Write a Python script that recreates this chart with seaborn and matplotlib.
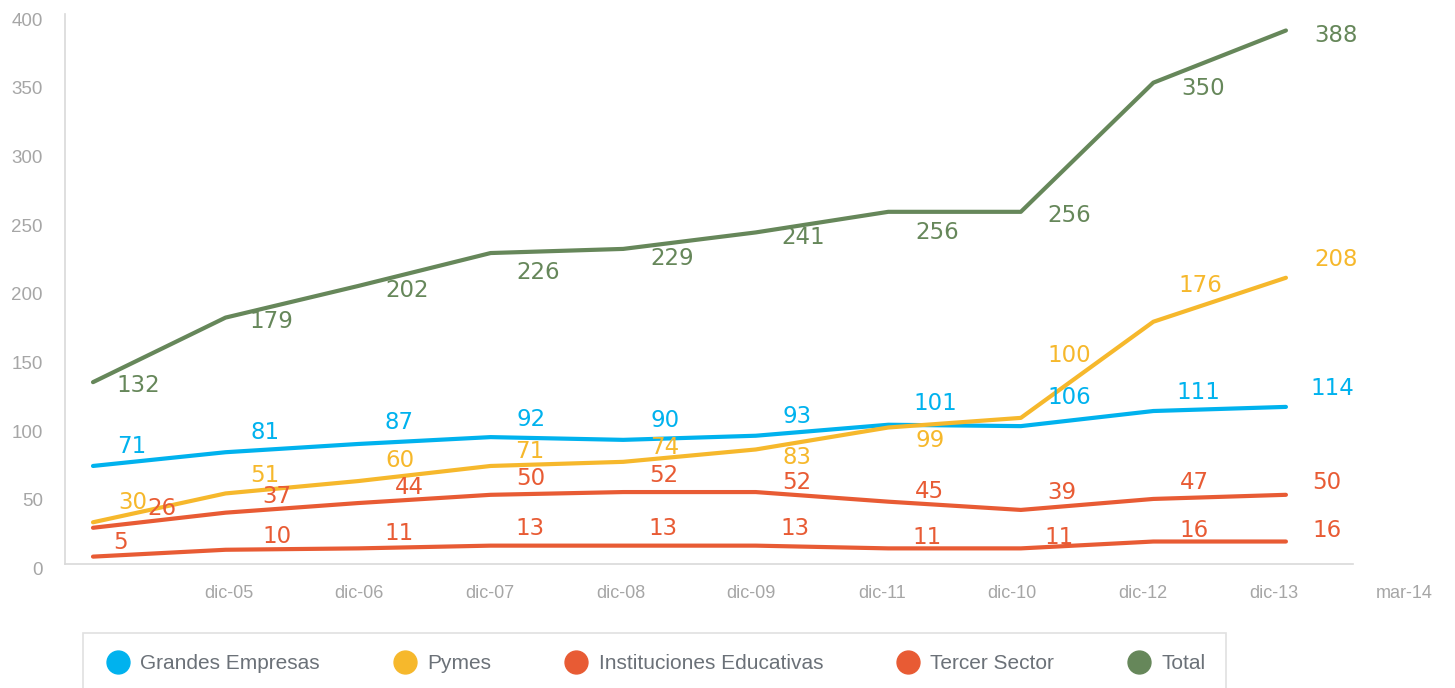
import matplotlib
matplotlib.use("Agg")
import numpy as np
import pandas as pd
import seaborn as sns
import matplotlib.pyplot as plt
from matplotlib.lines import Line2D
from matplotlib.transforms import ScaledTranslation

# ---------------- data ----------------
x_labels = ["dic-05", "dic-06", "dic-07", "dic-08", "dic-09",
            "dic-11", "dic-10", "dic-12", "dic-13", "mar-14"]
series_names = ["Grandes Empresas", "Pymes", "Instituciones Educativas",
                "Tercer Sector", "Total"]

grandes = [71, 81, 87, 92, 90, 93, 101, 100, 111, 114]
pymes = [30, 51, 60, 71, 74, 83, 99, 106, 176, 208]
instituciones = [26, 37, 44, 50, 52, 52, 45, 39, 47, 50]
tercer = [5, 10, 11, 13, 13, 13, 11, 11, 16, 16]
total = [132, 179, 202, 226, 229, 241, 256, 256, 350, 388]

# data labels as printed on the chart
grandes_lbl = [71, 81, 87, 92, 90, 93, 101, 106, 111, 114]
pymes_lbl = [30, 51, 60, 71, 74, 83, 99, 100, 176, 208]
instituciones_lbl = instituciones
tercer_lbl = tercer
total_lbl = total

y_ticks = [0, 50, 100, 150, 200, 250, 300, 350, 400]

# ---------------- style ----------------
colors = {
    "Grandes Empresas": "#00B2EE",
    "Pymes": "#F6B82C",
    "Instituciones Educativas": "#E85B34",
    "Tercer Sector": "#E85B34",
    "Total": "#66875A",
}
# label offsets (pixels, right / down) relative to each point
offsets = {
    "Total": [(45, 3), (46, 4), (49, 4), (48, 19), (49, 10), (47, 5), (49, 21), (48, 4), (50, 6), (50, 5)],
    "Grandes Empresas": [(39, -19), (40, -20), (41, -21), (40, -18), (42, -19), (41, -19), (47, -21), (48, -29), (45, -19), (46, -18)],
    "Pymes": [(40, -20), (39, -18), (42, -21), (39, -14), (41, -14), (41, 8), (42, 13), (48, -62), (47, -36), (50, -18)],
    "Instituciones Educativas": [(69, -19), (51, -16), (51, -16), (40, -16), (41, -17), (41, -10), (41, -10), (41, -17), (41, -16), (41, -12)],
    "Tercer Sector": [(28, -14), (51, -13), (41, -15), (39, -17), (40, -17), (39, -17), (39, -11), (38, -11), (41, -11), (41, -11)],
}

sns.set_theme(style="white")
plt.rcParams["font.family"] = ["DejaVu Sans"]
plt.rcParams["lines.solid_capstyle"] = "round"
narrow = ["Liberation Sans", "DejaVu Sans"]

values = {
    "Grandes Empresas": grandes,
    "Pymes": pymes,
    "Instituciones Educativas": instituciones,
    "Tercer Sector": tercer,
    "Total": total,
}
labels = {
    "Grandes Empresas": grandes_lbl,
    "Pymes": pymes_lbl,
    "Instituciones Educativas": instituciones_lbl,
    "Tercer Sector": tercer_lbl,
    "Total": total_lbl,
}

rows = []
for name in series_names:
    for i, v in enumerate(values[name]):
        rows.append({"pos": i, "value": v, "serie": name})
df = pd.DataFrame(rows)

fig = plt.figure(figsize=(14.55, 6.88), dpi=100)
ax = fig.add_axes([64.5 / 1455, 1 - 563.5 / 688, (1353 - 64.5) / 1455, (563.5 - 14) / 688])

sns.lineplot(data=df, x="pos", y="value", hue="serie", hue_order=series_names,
             palette=colors, linewidth=3, legend=False, sort=False, ax=ax)

ax.set_xlim(-0.215, 9.506)
ax.set_ylim(0, 400)
ax.set_xlabel("")
ax.set_ylabel("")

for s in ["top", "right"]:
    ax.spines[s].set_visible(False)
for s in ["left", "bottom"]:
    ax.spines[s].set_color("#D9D9D9")
    ax.spines[s].set_linewidth(1.2)

# y ticks
ax.set_yticks(y_ticks)
ax.set_yticklabels([str(t) for t in y_ticks], family=narrow, fontsize=13.5, color="#A6A6A6")
ax.tick_params(axis="y", length=0, pad=15.5)
for lab in ax.get_yticklabels():
    lab.set_transform(lab.get_transform() + ScaledTranslation(0, -0.05, fig.dpi_scale_trans))

# x labels
ax.set_xticks([])
label_pos = 0.04 + 0.985 * np.arange(1, len(x_labels) + 1)
for p, t in zip(label_pos, x_labels):
    ax.annotate(t, xy=(p, 0), xycoords=("data", "axes fraction"),
                xytext=(0, -29.5 * 0.72), textcoords="offset points",
                ha="center", va="center", family=narrow, fontsize=13,
                color="#A6A6A6", annotation_clip=False)

# data labels
for name in series_names:
    for i, (v, l) in enumerate(zip(values[name], labels[name])):
        dx, dy = offsets[name][i]
        ax.annotate(str(l), xy=(i, v), xytext=(dx * 0.72, -dy * 0.72),
                    textcoords="offset points", ha="center", va="center",
                    fontsize=16.5, color=colors[name], annotation_clip=False)

# legend
handles = [Line2D([], [], linestyle="none", marker="o", markersize=16.5,
                  markerfacecolor=colors[n], markeredgecolor=colors[n]) for n in series_names]
leg = fig.legend(handles, series_names, loc="upper left",
                 bbox_to_anchor=(83 / 1455, 1 - 633 / 688), ncol=5,
                 frameon=True, fancybox=False, borderaxespad=0, borderpad=1.0,
                 handlelength=1.35, handletextpad=0.4, columnspacing=3.4,
                 prop={"family": narrow, "size": 15})
leg.get_frame().set_edgecolor("#D9D9D9")
leg.get_frame().set_linewidth(1.2)
for t in leg.get_texts():
    t.set_color("#6B7178")

fig.savefig("out.png", dpi=100)
